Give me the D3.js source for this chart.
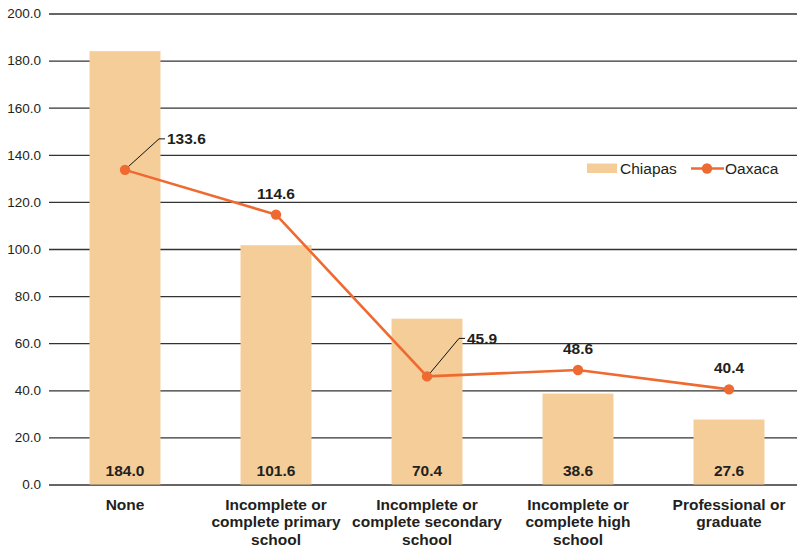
<!DOCTYPE html>
<html>
<head>
<meta charset="utf-8">
<script src="https://cdn.jsdelivr.net/npm/d3@7/dist/d3.min.js"></script>
<style>
  html, body { margin: 0; padding: 0; background: #fff; }
  svg { display: block; font-family: "Liberation Sans", Arial, Helvetica, sans-serif; }
</style>
</head>
<body>
<svg id="chart" width="797" height="549"></svg>
<script>
// Education level categories, each split into display lines
const categories = ["None", "Primary", "Secondary", "High", "Professional"];
const categoryLines = [
  ["None"],
  ["Incomplete or", "complete primary", "school"],
  ["Incomplete or", "complete secondary", "school"],
  ["Incomplete or", "complete high", "school"],
  ["Professional or", "graduate"]
];
// Series values
const chiapas = [184.0, 101.6, 70.4, 38.6, 27.6];
const oaxaca = [133.6, 114.6, 45.9, 48.6, 40.4];
// Y axis ticks
const yTicks = [0, 20, 40, 60, 80, 100, 120, 140, 160, 180, 200];
const seriesNames = ["Chiapas", "Oaxaca"];

const barColor = "#F4CD98";
const lineColor = "#EE6A30";
const textColor = "#231f20";

const svg = d3.select("#chart");

const x = d3.scaleBand()
  .domain(categories)
  .range([49.5, 804.5])
  .paddingInner(0.53)
  .paddingOuter(0.265);

const y = d3.scaleLinear().domain([0, 200]).range([484.5, 13.5]);

// Gridlines and y tick labels
const yAxis = d3.axisLeft(y)
  .tickValues(yTicks)
  .tickSize(-(797 - 49))
  .tickPadding(8)
  .tickFormat(d3.format(".1f"));

const gAxis = svg.append("g")
  .attr("transform", "translate(49,0)")
  .call(yAxis);
gAxis.select(".domain").remove();
gAxis.selectAll(".tick line")
  .attr("stroke", "#333")
  .attr("stroke-width", 1.3);
gAxis.selectAll(".tick text")
  .attr("fill", textColor)
  .attr("font-size", "13.5px")
  .attr("font-family", "'Liberation Sans', Arial, sans-serif");

// Chiapas bars
svg.append("g").selectAll("rect")
  .data(chiapas)
  .join("rect")
  .attr("x", (d, i) => x(categories[i]))
  .attr("width", x.bandwidth())
  .attr("y", d => y(d))
  .attr("height", d => y(0) - y(d))
  .attr("fill", barColor);

// Bar value labels inside the base of each bar
svg.append("g").selectAll("text")
  .data(chiapas)
  .join("text")
  .attr("x", (d, i) => x(categories[i]) + x.bandwidth() / 2)
  .attr("y", y(0) - 9)
  .attr("text-anchor", "middle")
  .attr("font-weight", "bold")
  .attr("font-size", "15.5px")
  .attr("fill", textColor)
  .text(d => d3.format(".1f")(d));

// Oaxaca line
const cx = (i) => x(categories[i]) + x.bandwidth() / 2;
const line = d3.line()
  .x((d, i) => cx(i))
  .y(d => y(d));

svg.append("path")
  .datum(oaxaca)
  .attr("d", line)
  .attr("fill", "none")
  .attr("stroke", lineColor)
  .attr("stroke-width", 2.6);

// Leader lines for labels placed off to the upper right of their point
const leaderOffsets = { 0: [34, -31], 2: [32, -38] };
Object.entries(leaderOffsets).forEach(([k, [dx, dy]]) => {
  const i = +k;
  const px = cx(i), py = y(oaxaca[i]);
  svg.append("polyline")
    .attr("points", `${px + 2},${py - 2} ${px + dx},${py + dy} ${px + dx + 6},${py + dy}`)
    .attr("fill", "none")
    .attr("stroke", "#111")
    .attr("stroke-width", 1);
});

svg.append("g").selectAll("circle")
  .data(oaxaca)
  .join("circle")
  .attr("cx", (d, i) => cx(i))
  .attr("cy", d => y(d))
  .attr("r", 5.2)
  .attr("fill", lineColor);

// Oaxaca value labels
svg.append("g").selectAll("text")
  .data(oaxaca)
  .join("text")
  .attr("x", (d, i) => leaderOffsets[i] ? cx(i) + leaderOffsets[i][0] + 8 : cx(i))
  .attr("y", (d, i) => leaderOffsets[i] ? y(d) + leaderOffsets[i][1] + 5.5 : y(d) - 16)
  .attr("text-anchor", (d, i) => leaderOffsets[i] ? "start" : "middle")
  .attr("font-weight", "bold")
  .attr("font-size", "15.5px")
  .attr("fill", textColor)
  .text(d => d3.format(".1f")(d));

// Category labels
const catG = svg.append("g");
categoryLines.forEach((lines, i) => {
  const t = catG.append("text")
    .attr("x", cx(i))
    .attr("y", 510)
    .attr("text-anchor", "middle")
    .attr("font-weight", "bold")
    .attr("font-size", "15.5px")
    .attr("fill", textColor);
  lines.forEach((ln, j) => {
    t.append("tspan")
      .attr("x", cx(i))
      .attr("dy", j === 0 ? 0 : 17.3)
      .text(ln);
  });
});

// Legend
const legend = svg.append("g");
legend.append("rect")
  .attr("x", 587).attr("y", 163.5)
  .attr("width", 30).attr("height", 9.5)
  .attr("fill", barColor);
legend.append("text")
  .attr("x", 620).attr("y", 174)
  .attr("font-size", "15.5px")
  .attr("fill", textColor)
  .text(seriesNames[0]);
legend.append("line")
  .attr("x1", 691).attr("x2", 724)
  .attr("y1", 168.5).attr("y2", 168.5)
  .attr("stroke", lineColor)
  .attr("stroke-width", 2.6);
legend.append("circle")
  .attr("cx", 707).attr("cy", 168.5)
  .attr("r", 5.2)
  .attr("fill", lineColor);
legend.append("text")
  .attr("x", 725).attr("y", 174)
  .attr("font-size", "15.5px")
  .attr("fill", textColor)
  .text(seriesNames[1]);
</script>
</body>
</html>
